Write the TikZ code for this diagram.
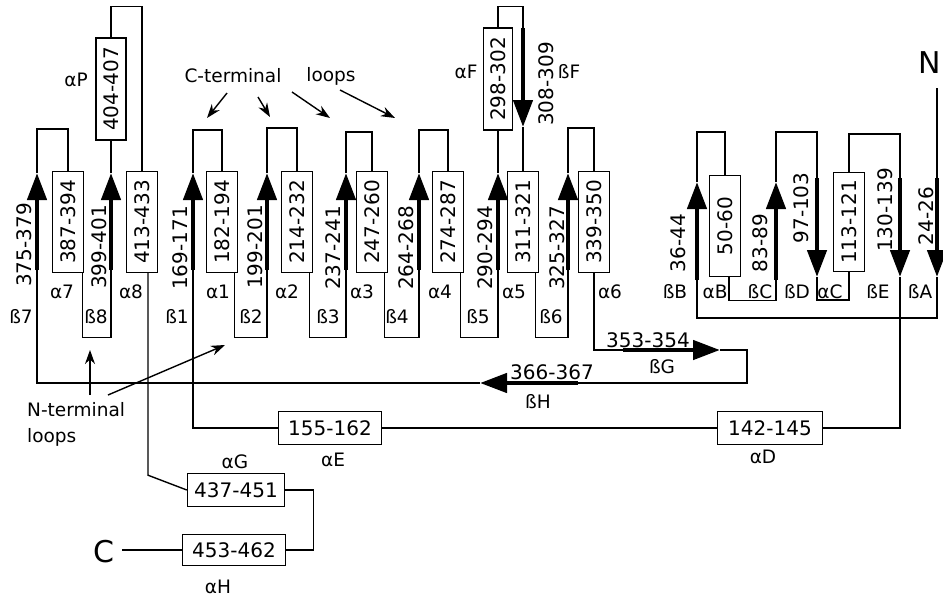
\documentclass[tikz,border=0pt]{standalone}
\usepackage{fontspec}
\setmainfont{DejaVu Sans}
\usetikzlibrary{arrows.meta}
\newcommand\numfont{\fontsize{20}{20}\selectfont}
\newcommand\labfont{\fontsize{18.5}{18.5}\selectfont}
\newcommand\termfont{\fontsize{30}{30}\selectfont}

\begin{document}
\begin{tikzpicture}[x=1pt, y=-1pt,
    helix/.style={rectangle, draw, line width=1.4pt, minimum width=31pt, minimum height=101pt, inner sep=0pt, font=\numfont},
    hbox/.style={rectangle, draw, line width=1.4pt, minimum width=103pt, minimum height=33pt, inner sep=0pt, font=\numfont},
    strand/.style={line width=4.5pt, -{Triangle[width=19pt,length=27pt]}},
    link/.style={line width=1.4pt},
    note/.style={line width=1.4pt, -{Stealth[width=10pt,length=14pt]}},
    rnum/.style={font=\numfont, rotate=90, inner sep=0pt},
    hnum/.style={font=\numfont, inner sep=0pt},
    lab/.style={font=\labfont, inner sep=0pt}
]
\path[use as bounding box, fill=white] (0,0) rectangle (943,598);

% Strand ends (s = start, e = tip)
\coordinate (b7s) at (37,270);  \coordinate (b7e) at (37,173);
\coordinate (b8s) at (111,270); \coordinate (b8e) at (111,173);
\coordinate (b1s) at (193,270); \coordinate (b1e) at (193,173);
\coordinate (b2s) at (267,270); \coordinate (b2e) at (267,173);
\coordinate (b3s) at (346,270); \coordinate (b3e) at (346,173);
\coordinate (b4s) at (419,270); \coordinate (b4e) at (419,173);
\coordinate (b5s) at (498,270); \coordinate (b5e) at (498,173);
\coordinate (b6s) at (568,270); \coordinate (b6e) at (568,173);
\coordinate (bFs) at (523,28);  \coordinate (bFe) at (523,127);
\coordinate (bGs) at (623,350); \coordinate (bGe) at (720,350);
\coordinate (bHs) at (578,383); \coordinate (bHe) at (480,383);
\coordinate (bAs) at (937,178); \coordinate (bAe) at (937,277);
\coordinate (bBs) at (697,280); \coordinate (bBe) at (697,182);
\coordinate (bCs) at (776,280); \coordinate (bCe) at (776,182);
\coordinate (bDs) at (817,178); \coordinate (bDe) at (817,277);
\coordinate (bEs) at (900,178); \coordinate (bEe) at (900,277);

% Helices - vertical
\node[helix] (a7) at (68,222) {\rotatebox{90}{387-394}};
\node[helix] (a8) at (142,222) {\rotatebox{90}{413-433}};
\node[helix, minimum width=30pt, minimum height=102pt] (aP) at (111,89) {\rotatebox{90}{404-407}};
\node[helix] (a1) at (222,222) {\rotatebox{90}{182-194}};
\node[helix] (a2) at (297,222) {\rotatebox{90}{214-232}};
\node[helix] (a3) at (372,222) {\rotatebox{90}{247-260}};
\node[helix] (a4) at (448,222) {\rotatebox{90}{274-287}};
\node[helix, minimum width=29pt, minimum height=102pt] (aF) at (498,79) {\rotatebox{90}{298-302}};
\node[helix] (a5) at (523,222) {\rotatebox{90}{311-321}};
\node[helix] (a6) at (594,222) {\rotatebox{90}{339-350}};
\node[helix] (aB) at (725,226) {\rotatebox{90}{50-60}};
\node[helix, minimum height=99pt] (aC) at (849,222) {\rotatebox{90}{113-121}};

% Helices - horizontal
\node[hbox] (aE) at (330,428) {155-162};
\node[hbox, minimum width=105pt] (aD) at (770,428) {142-145};
\node[hbox, minimum width=97pt] (aG) at (236,490) {437-451};
\node[hbox, minimum height=31pt] (aH) at (234,550) {453-462};

% Termini
\node[font=\termfont, inner sep=0pt] (nlab) at (930,63) {N};
\node[font=\termfont, inner sep=0pt] (clab) at (104,552) {C};
\coordinate (ntop) at (937,88);
\coordinate (cend) at (122,550);

% Connections - right domain
\draw[link] (ntop) -- (bAs);
\draw[link] (bAe) -- ++(0,41) -| (bBs);
\draw[link] (bBe) -- ++(0,-50) -| (aB.north);
\draw[link] ([xshift=4pt]aB.south) -- ++(0,23) -| (bCs);
\draw[link] (bCe) -- ++(0,-50) -| (bDs);
\draw[link] (bDe) -- ++(0,23) -| (aC.south);
\draw[link] (aC.north) -- ++(0,-38) -| (bEs);
\draw[link] (bEe) |- (aD.east);
\draw[link] (aD.west) -- (aE.east);
\draw[link] (aE.west) -| (b1s);

% Connections - main sheet
\draw[link] (b1e) -- ++(0,-43) -| (a1.north);
\draw[link] ([xshift=-4pt]a1.south east) -- ++(0,64) -| (b2s);
\draw[link] (b2e) -- ++(0,-45) -| (a2.north);
\draw[link] ([xshift=-4pt]a2.south east) -- ++(0,64) -| (b3s);
\draw[link] (b3e) -- ++(0,-41) -| (a3.north);
\draw[link] ([xshift=-4pt]a3.south east) -- ++(0,64) -| (b4s);
\draw[link] (b4e) -- ++(0,-43) -| (a4.north);
\draw[link] ([xshift=-4pt]a4.south east) -- ++(0,64) -| (b5s);
\draw[link] (b5e) -- (aF.south);
\draw[link] (aF.north) -- ++(0,-21) -| (bFs);
\draw[link] (bFe) -- (a5.north);
\draw[link] ([xshift=-4pt]a5.south east) -- ++(0,64) -| (b6s);
\draw[link] (b6e) -- ++(0,-45) -| (a6.north);
\draw[link] (a6.south) |- (bGs);
\draw[link] (bGe) -- ++(27,0) |- (bHs);
\draw[link] (bHe) -| (b7s);
\draw[link] (b7e) -- ++(0,-44) -| (a7.north);
\draw[link] ([xshift=-2pt]a7.south east) -- ++(0,64) -| (b8s);
\draw[link] (b8e) -- (aP.south);
\draw[link] (aP.north) -- ++(0,-31) -| (a8.north);
\draw[link] ([xshift=6pt]a8.south) -- ++(0,202) -- (aG.west);
\draw[link] (aG.east) -- ++(28,0) |- (aH.east);
\draw[link] (aH.west) -- (cend);

% Strands
\foreach \b in {b7,b8,b1,b2,b3,b4,b5,b6,bF,bG,bH,bA,bB,bC,bD,bE}
  \draw[strand] (\b s) -- (\b e);

% Strand numbers
\node[rnum] (n7) at (24,245) {375-379};
\node[rnum] (n8) at (99,247) {399-401};
\node[rnum] (n1) at (180,248) {169-171};
\node[rnum] (n2) at (255,247) {199-201};
\node[rnum] (n3) at (333,248) {237-241};
\node[rnum] (n4) at (406,248) {264-268};
\node[rnum] (n5) at (485,248) {290-294};
\node[rnum] (n6) at (557,248) {325-327};
\node[rnum] (nF) at (546,84) {308-309};
\node[rnum] (nB) at (678,243) {36-44};
\node[rnum] (nC) at (760,243) {83-89};
\node[rnum] (nD) at (801,208) {97-103};
\node[rnum] (nE) at (885,210) {130-139};
\node[rnum] (nA) at (926,216) {24-26};
\node[hnum] (nG) at (648,340) {353-354};
\node[hnum] (nH) at (552,372) {366-367};

% Element names
\node[lab] (lP) at (76,80) {αP};
\node[lab] (lF) at (466,72) {αF};
\node[lab] (lbF) at (569,72) {ßF};
\node[lab] (l7) at (62,292) {α7};
\node[lab] (l8) at (131,292) {α8};
\node[lab] (l1) at (218,292) {α1};
\node[lab] (l2) at (287,292) {α2};
\node[lab] (l3) at (362,292) {α3};
\node[lab] (l4) at (440,292) {α4};
\node[lab] (l5) at (514,292) {α5};
\node[lab] (l6) at (610,292) {α6};
\node[lab] (lb7) at (21,317) {ß7};
\node[lab] (lb8) at (96,317) {ß8};
\node[lab] (lb1) at (177,317) {ß1};
\node[lab] (lb2) at (251,317) {ß2};
\node[lab] (lb3) at (328,317) {ß3};
\node[lab] (lb4) at (397,317) {ß4};
\node[lab] (lb5) at (478,317) {ß5};
\node[lab] (lb6) at (551,317) {ß6};
\node[lab] (lbB) at (675,292) {ßB};
\node[lab] (lB) at (715,292) {αB};
\node[lab] (lbC) at (760,292) {ßC};
\node[lab] (lbD) at (797,292) {ßD};
\node[lab] (lC) at (830,292) {αC};
\node[lab] (lbE) at (878,292) {ßE};
\node[lab] (lbA) at (920,292) {ßA};
\node[lab] (lbG) at (662,367) {ßG};
\node[lab] (lbH) at (538,402) {ßH};
\node[lab] (lE) at (333,460) {αE};
\node[lab] (lD) at (763,457) {αD};
\node[lab] (lG) at (235,462) {αG};
\node[lab] (lH) at (218,587) {αH};

% Loop notes
\node[lab] (cterm) at (233,76) {C-terminal};
\node[lab] (cloops) at (331,76) {loops};
\node[lab, anchor=west] (nterm) at (27,410) {N-terminal};
\node[lab, anchor=west] (nloops) at (27,437) {loops};
\coordinate (c1s) at (227,93);  \coordinate (c1e) at (207,118);
\coordinate (c2s) at (258,97);  \coordinate (c2e) at (270,117);
\coordinate (c3s) at (292,92);  \coordinate (c3e) at (330,118);
\coordinate (c4s) at (340,90);  \coordinate (c4e) at (395,118);
\coordinate (t1s) at (90,395);  \coordinate (t1e) at (90,350);
\coordinate (t2s) at (108,395); \coordinate (t2e) at (225,345);
\foreach \c in {c1,c2,c3,c4,t1,t2}
  \draw[note] (\c s) -- (\c e);

\end{tikzpicture}
\end{document}
